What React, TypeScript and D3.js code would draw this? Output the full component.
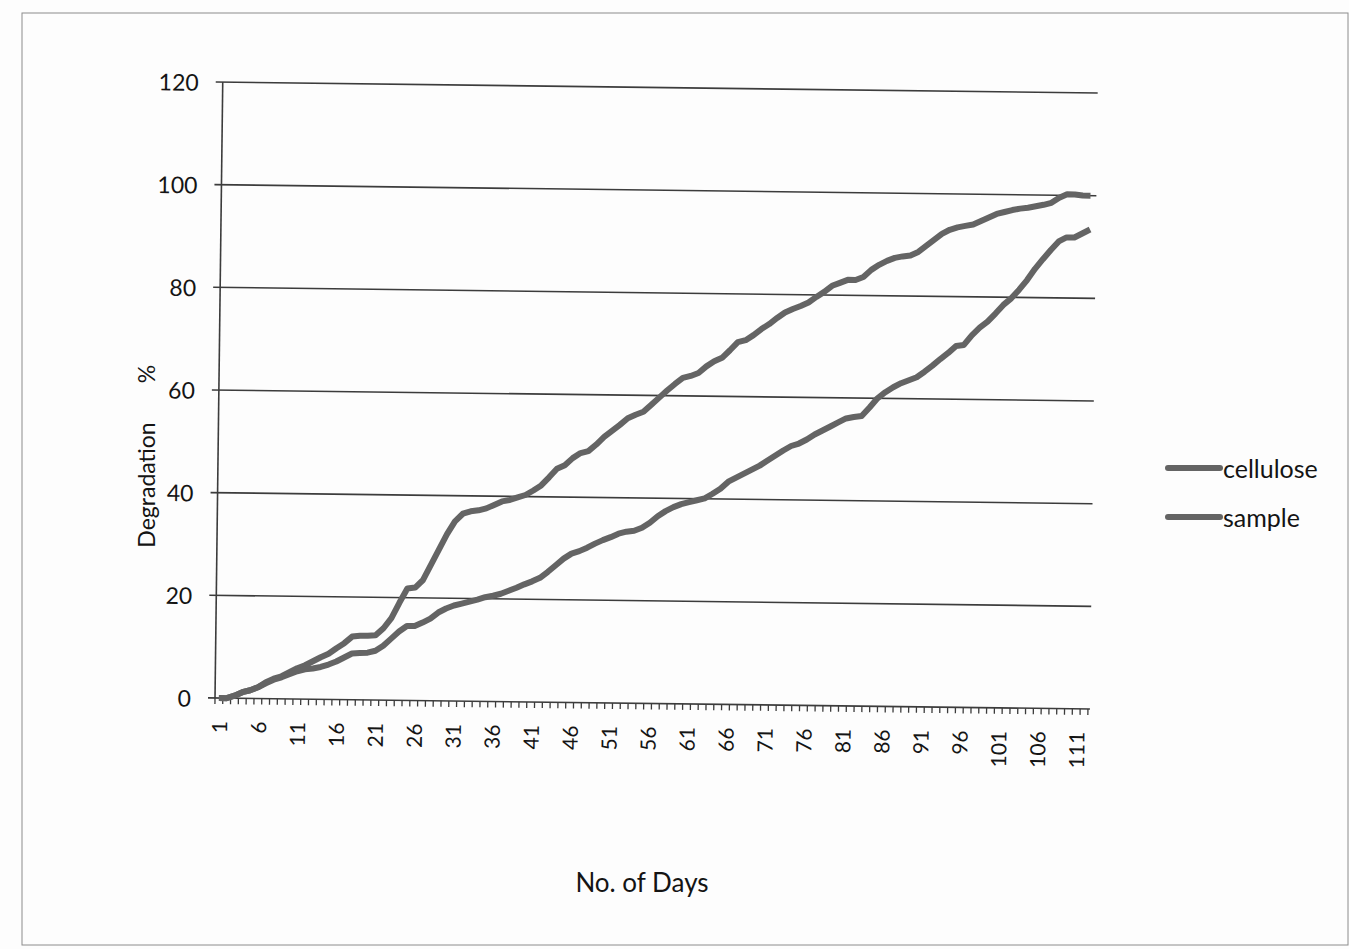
import { useEffect, useRef } from 'react';
import * as d3 from 'd3';

// Day numbers on the category axis
const days = d3.range(1, 113);

// Degradation % per day
const cellulose = [
  0, 0, 0.5, 1.2, 1.6, 2.2, 3.2, 3.9, 4.4, 5.2,
  6.0, 6.6, 7.4, 8.2, 8.9, 10.0, 11.0, 12.3, 12.5, 12.5,
  12.6, 14.0, 16.0, 19.0, 21.8, 22.0, 23.5, 26.5, 29.5, 32.5,
  35.0, 36.5, 37.0, 37.2, 37.6, 38.3, 39.0, 39.3, 39.8, 40.3,
  41.2, 42.2, 43.8, 45.5, 46.2, 47.6, 48.6, 49.0, 50.3, 51.8,
  53.0, 54.2, 55.5, 56.2, 56.8, 58.2, 59.6, 61.0, 62.3, 63.5,
  63.9, 64.5, 65.8, 66.8, 67.5, 69.0, 70.6, 71.0, 72.0, 73.2,
  74.2, 75.4, 76.5, 77.2, 77.8, 78.5, 79.6, 80.6, 81.8, 82.4,
  83.0, 83.0, 83.6, 85.0, 86.0, 86.8, 87.4, 87.7, 87.9, 88.6,
  89.8, 91.0, 92.2, 93.0, 93.5, 93.8, 94.1, 94.8, 95.5, 96.2,
  96.6, 97.0, 97.3, 97.5, 97.8, 98.1, 98.5, 99.5, 100.2, 100.2,
  100.0, 100.0,
];

const sample = [
  0, 0, 0.5, 1.2, 1.6, 2.2, 3.0, 3.7, 4.2, 4.8,
  5.4, 5.8, 6.0, 6.3, 6.8, 7.4, 8.2, 9.0, 9.1, 9.2,
  9.6, 10.6, 12.0, 13.4, 14.5, 14.5, 15.2, 16.0, 17.2, 18.0,
  18.6, 19.0, 19.4, 19.8, 20.3, 20.6, 21.0, 21.6, 22.2, 22.9,
  23.5, 24.2, 25.4, 26.7, 28.0, 29.0, 29.5, 30.2, 31.0, 31.7,
  32.3, 33.0, 33.4, 33.6, 34.2, 35.2, 36.5, 37.5, 38.3, 38.9,
  39.3, 39.7, 40.1, 41.0, 42.0, 43.4, 44.2, 45.0, 45.8, 46.6,
  47.6, 48.6, 49.6, 50.5, 51.0, 51.8, 52.8, 53.6, 54.4, 55.2,
  56.0, 56.3, 56.5, 58.2, 60.0, 61.2, 62.2, 63.0, 63.6, 64.2,
  65.3, 66.5, 67.8, 69.0, 70.4, 70.6, 72.5, 74.0, 75.2, 76.8,
  78.5, 79.8, 81.5, 83.4, 85.6, 87.5, 89.3, 91.0, 91.8, 91.8,
  92.6, 93.4,
];

const yTicks = [0, 20, 40, 60, 80, 100, 120];
const seriesNames = ['cellulose', 'sample'];

const W = 1349;
const H = 949;
const FONT = 'Lato, "Open Sans", "DejaVu Sans", sans-serif';
const INK = '#141414';
const LINE_GREY = '#646464';

export default function App() {
  const svgRef = useRef<SVGSVGElement>(null);

  useEffect(() => {
    if (!svgRef.current) return;
    const svg = d3.select(svgRef.current);
    svg.selectAll('*').remove();

    // paper + thin frame of the chart area
    svg.append('rect').attr('width', W).attr('height', H).attr('fill', '#fdfdfd');
    svg.append('rect')
      .attr('x', 22).attr('y', 13)
      .attr('width', 1326).attr('height', 932)
      .attr('fill', 'none')
      .attr('stroke', '#8c8c8c')
      .attr('stroke-width', 1);

    const margin = { top: 82, right: 261, bottom: 251, left: 215 };
    const x0 = margin.left;
    const x1 = W - margin.right;
    const yBase = H - margin.bottom;

    // scan is slightly tilted
    const g = svg.append('g').attr('transform', `rotate(0.72, ${x0}, ${yBase})`);

    const xScale = d3.scaleBand<number>().domain(days).range([x0, x1]).padding(0);
    const yScale = d3.scaleLinear().domain([0, 120]).range([yBase, margin.top]);
    const cx = (d: number) => (xScale(d) as number) + xScale.bandwidth() / 2;

    // horizontal gridlines (with outside tick on the left)
    g.selectAll('.grid')
      .data(yTicks)
      .enter()
      .append('line')
      .attr('x1', x0 - 7)
      .attr('x2', x1 + 2)
      .attr('y1', d => yScale(d))
      .attr('y2', d => yScale(d))
      .attr('stroke', '#3c3c3c')
      .attr('stroke-width', 1.6);

    // y axis line
    g.append('line')
      .attr('x1', x0).attr('x2', x0)
      .attr('y1', yScale(120)).attr('y2', yScale(0))
      .attr('stroke', '#3c3c3c')
      .attr('stroke-width', 1.6);

    g.selectAll('.ylab')
      .data(yTicks)
      .enter()
      .append('text')
      .attr('x', x0 - 24)
      .attr('y', d => yScale(d))
      .attr('text-anchor', 'end')
      .attr('dominant-baseline', 'central')
      .style('font-family', FONT)
      .style('font-size', '23px')
      .attr('fill', INK)
      .text(d => d);

    // category tick marks between days
    const bounds = days.map(d => xScale(d) as number).concat([x1]);
    g.selectAll('.xtick')
      .data(bounds)
      .enter()
      .append('line')
      .attr('x1', d => d).attr('x2', d => d)
      .attr('y1', yBase).attr('y2', yBase + 6)
      .attr('stroke', '#3c3c3c')
      .attr('stroke-width', 1.3);

    g.selectAll('.xlab')
      .data(days.filter(d => (d - 1) % 5 === 0))
      .enter()
      .append('text')
      .attr('transform', d => `translate(${cx(d)},${yBase + 23}) rotate(-90)`)
      .attr('text-anchor', 'end')
      .attr('dominant-baseline', 'central')
      .style('font-family', FONT)
      .style('font-size', '21px')
      .attr('fill', INK)
      .text(d => d);

    // series lines
    const line = d3.line<number>()
      .x((_, i) => cx(days[i]))
      .y(v => yScale(v));

    [cellulose, sample].forEach(values => {
      g.append('path')
        .datum(values)
        .attr('d', line)
        .attr('fill', 'none')
        .attr('stroke', LINE_GREY)
        .attr('stroke-width', 6)
        .attr('stroke-linejoin', 'round');
    });

    // axis titles
    svg.append('text')
      .attr('transform', `translate(146,485) rotate(-90)`)
      .attr('text-anchor', 'middle')
      .attr('dominant-baseline', 'central')
      .style('font-family', FONT)
      .style('font-size', '23px')
      .attr('fill', INK)
      .text('Degradation');
    svg.append('text')
      .attr('transform', `translate(146,374) rotate(-90)`)
      .attr('text-anchor', 'middle')
      .attr('dominant-baseline', 'central')
      .style('font-family', FONT)
      .style('font-size', '23px')
      .attr('fill', INK)
      .text('%');

    svg.append('text')
      .attr('x', 642)
      .attr('y', 882)
      .attr('text-anchor', 'middle')
      .attr('dominant-baseline', 'central')
      .style('font-family', FONT)
      .style('font-size', '26px')
      .attr('fill', INK)
      .text('No. of Days');

    // legend
    const legend = svg.append('g').attr('transform', 'translate(1168,468)');
    seriesNames.forEach((name, i) => {
      const row = legend.append('g').attr('transform', `translate(0,${i * 49})`);
      row.append('line')
        .attr('x1', 0).attr('x2', 52)
        .attr('y1', 0).attr('y2', 0)
        .attr('stroke', LINE_GREY)
        .attr('stroke-width', 6)
        .attr('stroke-linecap', 'round');
      row.append('text')
        .attr('x', 55)
        .attr('y', 0)
        .attr('dominant-baseline', 'central')
        .style('font-family', FONT)
        .style('font-size', '25px')
        .attr('fill', INK)
        .text(name);
    });
  }, []);

  return (
    <svg
      ref={svgRef}
      width={W}
      height={H}
      style={{ position: 'absolute', left: 0, top: 0 }}
    />
  );
}
